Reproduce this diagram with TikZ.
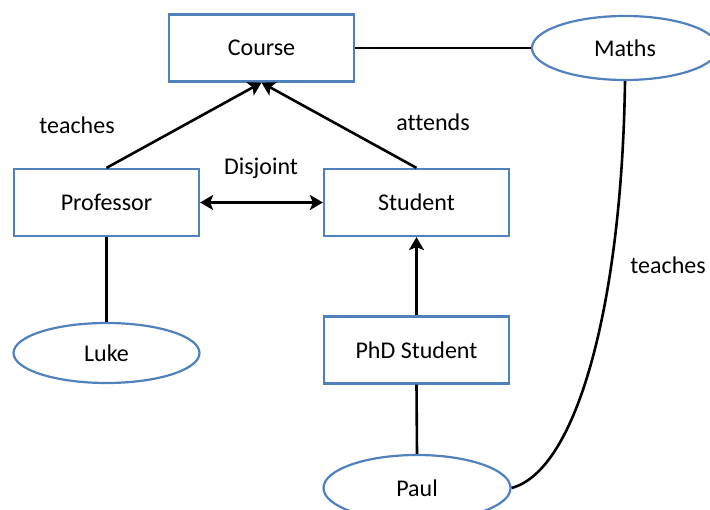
\documentclass[tikz,border=0pt]{standalone}
\usepackage{fontspec}
\setmainfont[Ligatures={NoCommon}]{Carlito}
\usetikzlibrary{shapes.geometric,arrows.meta}
\definecolor{boxblue}{HTML}{4F81BD}
\begin{document}
\begin{tikzpicture}[x=1pt,y=-1pt,
  every node/.style={font=\fontsize{24}{28}\selectfont},
  cls/.style={draw=boxblue,line width=2.2pt,fill=white,minimum width=185pt,minimum height=67pt,inner sep=0pt},
  inst/.style={draw=boxblue,line width=2.2pt,fill=white,ellipse,inner sep=0pt},
  lnk/.style={line width=2.6pt,black},
  arr/.style={lnk,-{Stealth[length=13pt,width=15pt,inset=3pt]}},
  darr/.style={lnk,{Stealth[length=13pt,width=15pt,inset=3pt]}-{Stealth[length=13pt,width=15pt,inset=3pt]}},
  lbl/.style={inner sep=0pt}]
\useasboundingbox (0,0) rectangle (710,510);
\node[cls] (course) at (261.5,48) {Course};
\node[cls] (prof) at (106.5,202.5) {Professor};
\node[cls] (stud) at (416.5,202.5) {Student};
\node[cls] (phd) at (416.5,350) {PhD Student};
\node[inst,minimum width=186pt,minimum height=64pt] (maths) at (625,48) {Maths};
\node[inst,minimum width=186pt,minimum height=60pt] (luke) at (106.5,353) {Luke};
\node[inst,minimum width=187pt,minimum height=66pt] (paul) at (417,488) {Paul};
\draw[arr] (prof.north) -- (course.south);
\draw[arr] (stud.north) -- (course.south);
\draw[darr] (prof.east) -- (stud.west);
\draw[arr] (phd.north) -- (stud.south);
\draw[lnk] (course.east) -- (maths.west);
\draw[lnk] (prof.south) -- (luke.north);
\draw[lnk] (phd.south) -- (paul.north);
\draw[lnk] (maths.south) .. controls (622,300) and (578,470) .. (paul.east);
\node[lbl] (t1) at (77,125) {teaches};
\node[lbl] (t2) at (433,122) {attends};
\node[lbl] (t3) at (261,168) {Disjoint};
\node[lbl] (t4) at (668,265) {teaches};
\end{tikzpicture}
\end{document}
